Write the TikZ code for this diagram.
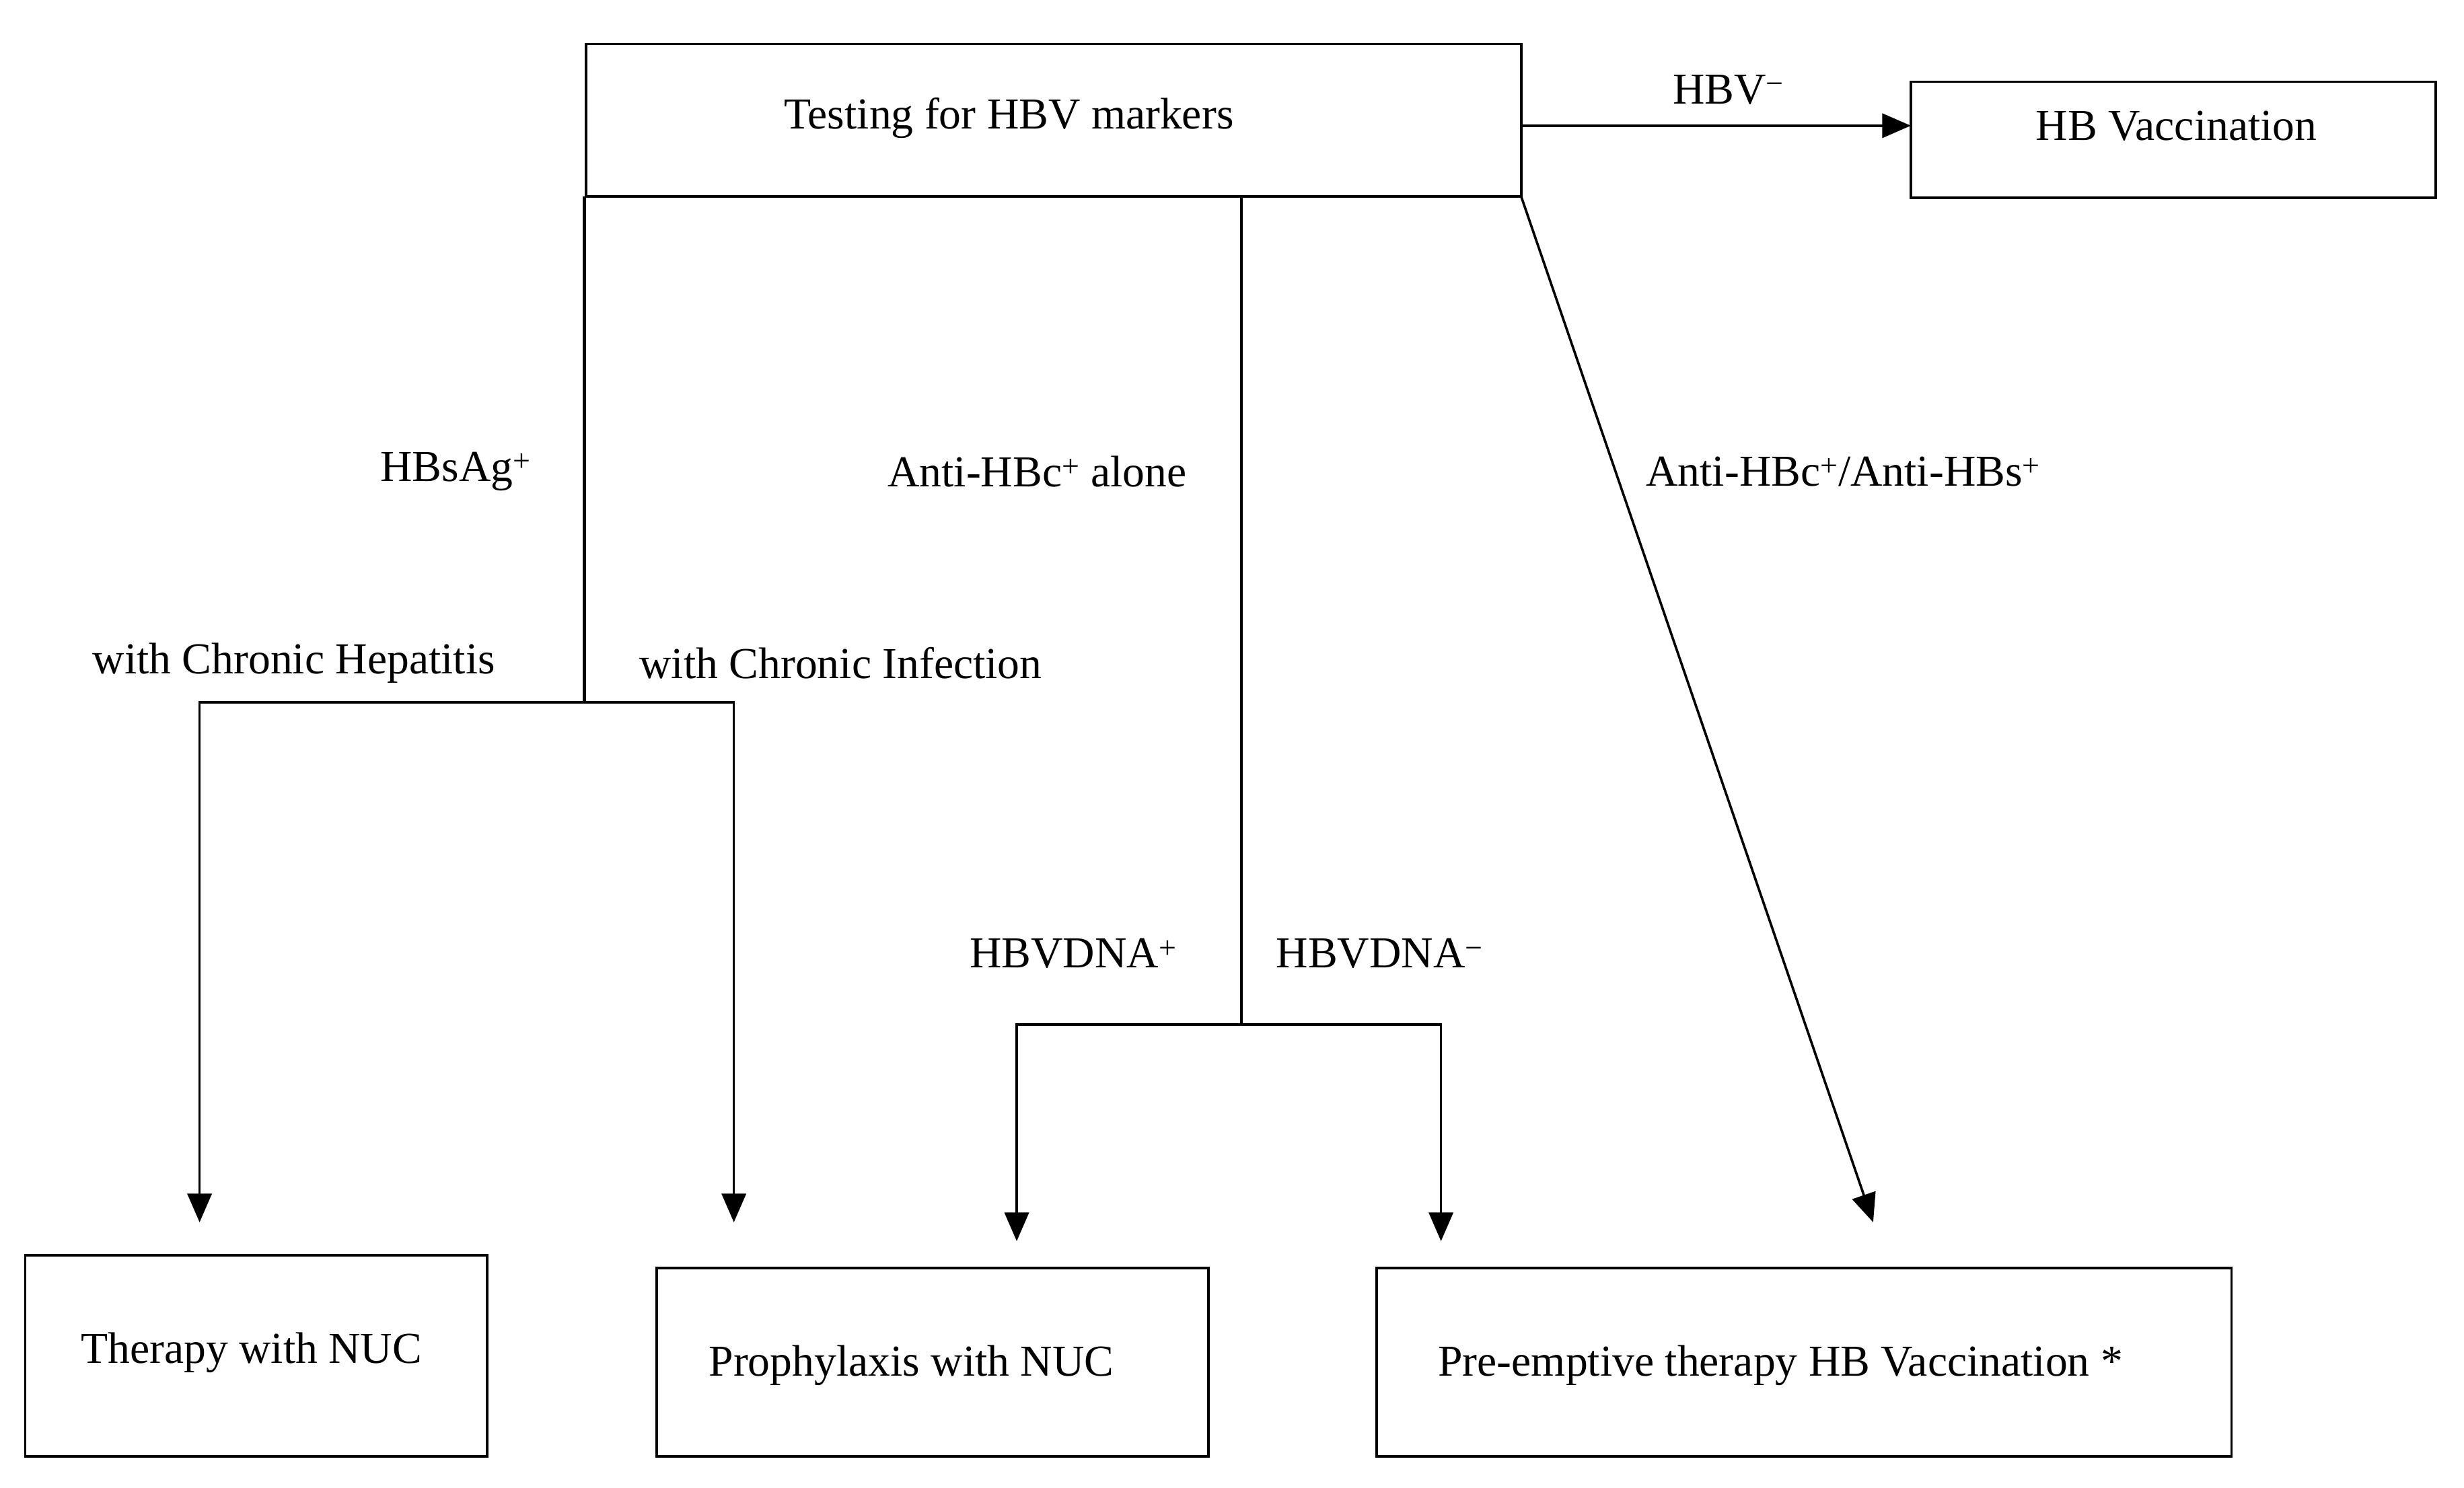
\documentclass[tikz,border=0pt]{standalone}
\usepackage{fontspec}
\setmainfont{Liberation Serif}
\usetikzlibrary{arrows.meta}
\begin{document}
\begin{tikzpicture}[x=0.05cm,y=-0.05cm,
  box/.style={draw,line width=2.2pt,inner sep=0},
  lab/.style={font=\fontsize{40}{48}\selectfont,inner sep=0},
  ln/.style={line width=2.2pt},
  arr/.style={ln,-{Triangle[length=26pt,width=22pt]}}]
\useasboundingbox (0,0) rectangle (1568,947);
\draw[box] (373,28) rectangle (968,125);
\node[lab] (t) at (642,75) {Testing for HBV markers};
\draw[box] (1216,52) rectangle (1550,126);
\node[lab] (v) at (1385,80) {HB Vaccination};
\draw[box] (16,799) rectangle (310,927);
\node[lab] (a) at (160,861) {Therapy with NUC};
\draw[box] (418,807) rectangle (769,927);
\node[lab] (b) at (580,869) {Prophylaxis with NUC};
\draw[box] (876,807) rectangle (1420,927);
\node[lab] (c) at (1133,869) {Pre-emptive therapy HB Vaccination *};
\coordinate (h0) at (968,80); \coordinate (h1) at (1216,80);
\draw[arr] (h0) -- (h1);
\node[lab] at (1100,57) {HBV\textsuperscript{−}};
\coordinate (s0) at (372,125); \coordinate (s1) at (372,447);
\coordinate (l1) at (127,447); \coordinate (l2) at (127,778);
\coordinate (r1) at (467,447); \coordinate (r2) at (467,778);
\draw[ln,line width=3pt] (s0) -- (s1);
\draw[arr] (s1) -- (l1) -- (l2);
\draw[arr] (s1) -- (r1) -- (r2);
\node[lab] at (290,300) {HBsAg\textsuperscript{+}};
\node[lab] at (187,422) {with Chronic Hepatitis};
\node[lab] at (535,422) {with Chronic Infection};
\coordinate (m0) at (790,125); \coordinate (m1) at (790,652);
\coordinate (ml1) at (647,652); \coordinate (ml2) at (647,790);
\coordinate (mr1) at (917,652); \coordinate (mr2) at (917,790);
\draw[ln] (m0) -- (m1);
\draw[arr] (m1) -- (ml1) -- (ml2);
\draw[arr] (m1) -- (mr1) -- (mr2);
\node[lab] at (660,300) {Anti-HBc\textsuperscript{+} alone};
\node[lab] at (683,607) {HBVDNA\textsuperscript{+}};
\node[lab] at (878,607) {HBVDNA\textsuperscript{−}};
\coordinate (d0) at (968,125); \coordinate (d1) at (1192,778);
\draw[arr] (d0) -- (d1);
\node[lab] at (1173,300) {Anti-HBc\textsuperscript{+}/Anti-HBs\textsuperscript{+}};
\end{tikzpicture}
\end{document}
